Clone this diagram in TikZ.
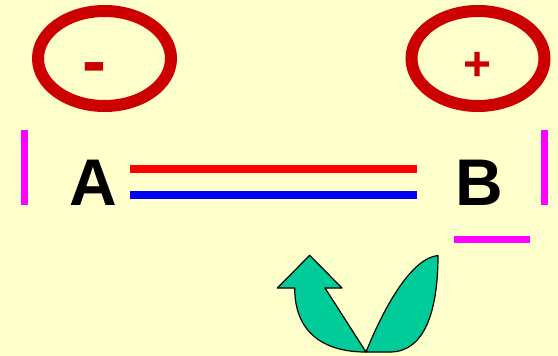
\documentclass[tikz,border=0pt]{standalone}
\usepackage{fontspec}
\setmainfont{Liberation Sans}
\definecolor{bgc}{HTML}{FFFFCC}
\definecolor{ringc}{HTML}{CC0000}
\definecolor{barc}{HTML}{FF00FF}
\definecolor{leafc}{HTML}{00CC99}
\begin{document}
\begin{tikzpicture}[x=1pt,y=-1pt,
  ring/.style={draw=ringc,line width=12pt},
  bar/.style={draw=barc,line width=7pt},
  wire/.style={line width=8pt},
  leaf/.style={draw=black,fill=leafc,line width=1.2pt,line join=round},
  letter/.style={font=\fontsize{66pt}{66pt}\selectfont\bfseries,anchor=base,inner sep=0pt,text=black},
  sign/.style={font=\bfseries,anchor=base,inner sep=0pt,text=ringc}]
\useasboundingbox (0,0) rectangle (558,356);
\fill[bgc] (0,0) rectangle (558,356);
\draw[ring] (104.5,58.5) ellipse [x radius=66.5,y radius=47.5];
\draw[ring] (478,58.5) ellipse [x radius=66.5,y radius=47.5];
\node[sign,font=\fontsize{72pt}{72pt}\selectfont\bfseries] (minus) at (94.5,85) {-};
\node[sign,font=\fontsize{48pt}{48pt}\selectfont\bfseries] (plus) at (477.5,81) {+};
\node[letter] (A) at (93.5,205) {A};
\node[letter] (B) at (479.5,205) {B};
\draw[wire,red] (130,169) -- (417,169);
\draw[wire,blue] (130,195) -- (417,195);
\draw[bar] (24.5,130) -- (24.5,205);
\draw[bar] (544.5,130) -- (544.5,205);
\draw[bar] (454,239.5) -- (530,239.5);
\draw[leaf] (366,352) .. controls (350,352) and (294.7,350) .. (294.7,288)
  -- (277.3,288) -- (309.7,255.3) -- (342,288) -- (325,288) -- cycle;
\draw[leaf] (366,352) .. controls (385,305) and (412,258) .. (438,255.5)
  .. controls (438,310) and (425,352) .. (390,352) -- cycle;
\end{tikzpicture}
\end{document}
